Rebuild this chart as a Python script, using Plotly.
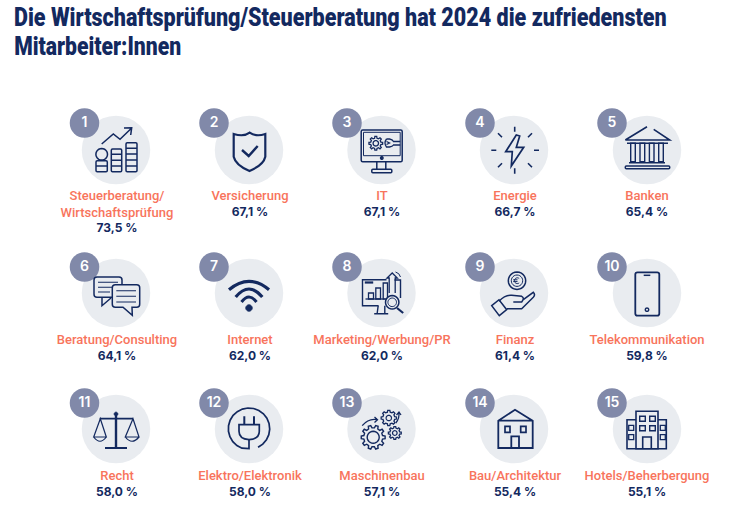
import math
import re

import plotly.graph_objects as go

TITLE_LINES = ["Die Wirtschaftsprüfung/Steuerberatung hat 2024 die zufriedensten",
               "Mitarbeiter:Innen"]
TITLE_CENTER = [340.5, 97.5]
TITLE_WIDTH = [653, 167]
RANKS = list(range(1, 16))
CATEGORIES = ["Steuerberatung/<br>Wirtschaftsprüfung", "Versicherung", "IT", "Energie", "Banken",
              "Beratung/Consulting", "Internet", "Marketing/Werbung/PR", "Finanz", "Telekommunikation",
              "Recht", "Elektro/Elektronik", "Maschinenbau", "Bau/Architektur", "Hotels/Beherbergung"]
VALUES = [73.5, 67.1, 67.1, 66.7, 65.4,
          64.1, 62.0, 62.0, 61.4, 59.8,
          58.0, 58.0, 57.1, 55.4, 55.1]

NAVY = "#13295f"
SALMON = "#f8745c"
DISC = "#e9ecf0"
BADGE = "#8189a9"

COL_X = [116, 249, 381.5, 514, 647]
ROW_Y = [150, 293, 429]
BADGE_X = [84.5, 214, 347, 480, 612]
BADGE_Y = [123, 267, 403]
LABEL_X = [117, 250, 382, 515, 647]
LABEL_Y = [190.5, 334.5, 470.5]


def rect(x0, y0, x1, y1):
    return f"M{x0},{y0} L{x1},{y0} L{x1},{y1} L{x0},{y1} Z"


def rrect(x0, y0, x1, y1, r):
    return (f"M{x0 + r},{y0} L{x1 - r},{y0} Q{x1},{y0} {x1},{y0 + r} L{x1},{y1 - r} Q{x1},{y1} {x1 - r},{y1} "
            f"L{x0 + r},{y1} Q{x0},{y1} {x0},{y1 - r} L{x0},{y0 + r} Q{x0},{y0} {x0 + r},{y0} Z")


def arc(cx, cy, r, a0=0, a1=360, close=True):
    n = max(int(abs(a1 - a0) / 15), 4)
    pts = []
    for i in range(n + 1):
        a = math.radians(a0 + (a1 - a0) * i / n)
        pts.append(f"{cx + r * math.cos(a):.2f},{cy + r * math.sin(a):.2f}")
    return "M" + " L".join(pts) + (" Z" if close else "")


def gear(cx, cy, outer, root, teeth):
    pts = []
    step = 360 / teeth
    for i in range(teeth):
        for da, r in ((-0.3, root), (-0.17, outer), (0.17, outer), (0.3, root)):
            a = math.radians((i + da) * step)
            pts.append(f"{cx + r * math.cos(a):.2f},{cy + r * math.sin(a):.2f}")
    return "M" + " L".join(pts) + " Z"


# every icon: list of (path in pixels around the disc centre, line width, fill)
ICONS = [
    [("M-14.3,-6 L-2.7,-16 L4,-10.7 L15.7,-22 M8,-22 L15.7,-22.3 L14.7,-15", 1.5, None),
     (arc(-14.3, 4.3, 5.8), 1.5, None),
     (rrect(-20, 10.7, -8.7, 21.7, 1.2) + " M-20,16 L-8.7,16", 1.5, None),
     (rrect(-4.7, -1, 5.7, 21.7, 1.2) + " M-4.7,4.3 L5.7,4.3 M-4.7,10.3 L5.7,10.3 M-4.7,16 L5.7,16", 1.5, None),
     (rrect(10, -7.3, 21, 21.7, 1.2) + " M10,-1.7 L21,-1.7 M10,4 L21,4 M10,10 L21,10 M10,16 L21,16", 1.5, None)],
    [("M-15.3,-16 Q-5,-13 0.7,-17.3 Q7,-13 16.3,-16 L16.3,6.7 Q14.5,15 0.5,21 Q-13.5,15 -15.3,6.7 Z", 2.2, None),
     ("M-7,0 L-0.3,6 L8.7,-4", 2.4, None)],
    [(rrect(-20.3, -20, 20.7, 11.7, 1.5), 1.5, None),
     (rect(-18, -17.7, 18.7, 5.7), 1, None),
     (arc(0.3, 8, 1.2), 1.5, NAVY),
     ("M-4.7,11.7 L-4.7,19.3 M4.3,11.7 L4.3,19.3", 1.5, None),
     (rrect(-9.7, 19.3, 10.3, 22.7, 1), 1.5, None),
     (gear(-5.7, -6.7, 6.9, 5.2, 8), 1.3, None),
     (arc(-5.7, -6.7, 2.7), 1.3, None),
     ("M5,-11 Q2,-7 5,-3 L8,-3 Q11,-3.5 12,-5 L18.7,-5 M5,-11 L8,-11 Q11,-10.5 12,-8.5 L18.7,-8.5 M5,-8.5 L8,-7 L5,-5.5", 1.3, None)],
    [("M2.3,-15 L-8.3,1.7 L-1.7,1.7 L-2.7,16 L9.7,-2.7 L2.3,-2.7 L5.7,-14 Z", 1.7, None),
     ("M0.7,-23.3 L0.7,-18.3 M0.7,18.3 L0.7,23.7 M-22.7,0.3 L-17.7,0.3 M20,0.3 L25,0.3", 1.6, None),
     ("M-16,-16.7 L-12,-12.7 M18,-16.7 L14,-12.7 M-16,17.3 L-12,13.3 M18,17.3 L14,13.3", 1.6, None)],
    [("M-21.7,-10 L0,-23.3 M6.7,-20.7 L22.7,-10 L-21.7,-10 M-20,-6.7 L21,-6.7", 1.6, None),
     (rect(-16.3, -6.7, -11.7, 11.7) + " " + rect(-7, -6.7, -2.3, 11.7), 1.4, None),
     (rect(2.4, -6.7, 7, 11.7) + " " + rect(11.7, -6.7, 16.3, 11.7), 1.4, None),
     ("M-18,12.7 L18,12.7", 1.5, None),
     (rrect(-21.7, 16, 22.7, 18.7, 1), 1.5, None)],
    [(rrect(-22, -16, 6, 4.3, 3) + " M-14,4.3 L-14,12.7 L-5,5", 1.5, None),
     ("M-18,-10.7 L2,-10.7 M-18,-5.7 L2,-5.7 M-18,-1 L-6,-1", 1.1, None),
     ("M-0.7,-8.3 L20.7,-8.3 Q23.7,-8.3 23.7,-5.3 L23.7,11.3 Q23.7,14.3 20.7,14.3 L16,14.3 L16.3,22.3 L7,14.3 "
      "L-0.7,14.3 Q-3.7,14.3 -3.7,11.3 L-3.7,-5.3 Q-3.7,-8.3 -0.7,-8.3 Z", 1.5, DISC),
     ("M0.3,-2.3 L20,-2.3 M0.3,3.3 L20,3.3 M0.3,9 L20,9", 1.1, None)],
    [("M-20,-3.3 Q0,-20 20,-3.3", 3.2, None),
     ("M-13.3,4 Q0,-12 13.3,4", 3.2, None),
     ("M-7.5,9 Q0,-1 7.5,9", 3, None),
     (arc(0, 15, 3.2), 1, NAVY)],
    [("M13,-13 L19,-13 L19,5 M-3,12.7 L-19,12.7 L-19,-13.3 L5,-13.3", 1.4, None),
     ("M-16.7,-10.5 L-8.3,-10.5", 2.2, None),
     (rect(-13, 0, -8, 6) + " " + rect(-5.7, -5, -1, 6) + " " + rect(1.7, -10, 6, 6), 1.3, None),
     ("M-16,6 L3,6", 1.3, None),
     ("M-3.3,12.7 L-4.3,20 M3.3,12.7 L3.3,20 M-7.3,20.7 L6.7,20.7", 1.4, None),
     ("M7.7,0 L7.7,-15 L5.5,-15 L10.7,-20 L15.8,-15 L13.7,-15 L13.7,0", 1.3, None),
     ("M14,-21 Q18,-20 19,-16", 1, None),
     (arc(10.7, 9.3, 6.7), 1.5, DISC),
     (arc(10.7, 9.3, 4.3), 1, None),
     ("M15.5,15 L21.7,20", 2.2, None)],
    [(arc(3, -12.3, 8.7), 1.5, None),
     (arc(3, -12.3, 5.7), 1, None),
     (arc(3.3, -12.3, 2.9, 50, 310, close=False) + " M-0.8,-13.2 L3.5,-13.2 M-0.8,-11.4 L3.5,-11.4", 1, None),
     ("M-22.3,12.7 L-15,6.7 L-7.3,16.7 L-14.7,22.7 Z", 1.5, None),
     ("M-15,8.3 Q-9,1.7 -2.3,2.3 L7.7,3.3 Q11,5 7.7,9 L-0.7,9", 1.5, None),
     ("M9.3,6.7 L19.3,-0.7 Q21.7,1.7 19.3,4.3 L7.7,15.7 L-7.3,15.7", 1.5, None)],
    [(rrect(-11.7, -20.7, 12.3, 22.7, 2.2), 1.8, None),
     ("M-3.3,-17.7 L3.3,-17.7", 1.5, None),
     (arc(0, 16.7, 1.7), 1.4, None)],
    [("M0,-15 L0,19", 2.4, None),
     (arc(0, -15, 1.8), 1, NAVY),
     ("M-11,19 L11,19", 2, None),
     ("M-16.3,-10.3 L17,-10.3", 1.8, None),
     ("M-15.7,-10.3 L-22.3,8 L-9.7,8 Z M-22.3,8 Q-16,16.5 -9.7,8", 1.2, None),
     ("M17,-10.3 L9.3,8 L23,8 Z M9.3,8 Q16,16.5 23,8", 1.2, None)],
    [(arc(0, -0.3, 20.7, 64, -250, close=False) + " L0,19.5 L0,10.7", 1.7, None),
     ("M-4.7,-12.7 L-4.7,-4.3 M5,-12.7 L5,-4.3", 2, None),
     ("M-10,-4.3 L10.3,-4.3 L10.3,2.3 Q10.3,10 0,10.7 Q-10,10 -10,2.3 Z", 1.7, None)],
    [(gear(-8.3, 8.3, 12, 9.5, 10), 1.4, None),
     (arc(-8.3, 8.3, 6), 1.4, None),
     (gear(7.3, -11, 7.7, 6, 8), 1.3, None),
     (arc(7.3, -11, 2.7), 1.2, None),
     (gear(13.3, 4, 6.5, 5, 8), 1.3, None),
     (arc(13.3, 4, 2.3), 1.2, None),
     ("M-19.3,-3.3 Q-13,-11 -4.3,-9.3 M-7,-12 L-4,-9.3 L-7,-6.5", 1.3, None),
     ("M14.3,-6 Q18.3,-11 17.3,-16.7 M15,-14 L17.5,-17 L19.5,-14", 1.3, None)],
    [("M-15.7,-8.3 L1,-19.3 L18.7,-8.3 L18.7,19 L-15.7,19 Z M-15.7,-8.3 L18.7,-8.3", 1.8, None),
     (rect(-9, -2.7, -4, 3.3) + " " + rect(6.7, -2.7, 12, 3.3), 1.7, None),
     ("M-2.7,19 L-2.7,7.3 L5,7.3 L5,19", 1.8, None)],
    [(rect(-11, -17.7, 11, 19.7), 1.6, None),
     ("M-11,-9.3 L-20,-9.3 L-20,19.7 L19.3,19.7 L19.3,-9.3 L11,-9.3", 1.6, None),
     (rect(-7.3, -12.7, -1.7, -7.7) + " " + rect(2.7, -12.7, 8.3, -7.7), 1.4, None),
     (rect(-7.3, -3.3, -1.7, 1.7) + " " + rect(2.7, -3.3, 8.3, 1.7), 1.4, None),
     ("M-4.3,19.7 L-4.3,8 L4.3,8 L4.3,19.7", 1.6, None),
     (rect(-18.3, -3.7, -13.3, 1.3) + " " + rect(-18.3, 5.7, -13.3, 10.7), 1.3, None),
     (rect(13.3, -3.7, 18.3, 1.3) + " " + rect(13.3, 5.7, 18.3, 10.7), 1.3, None)],
]


def shift_path(path, dx, dy):
    # moves the absolute coordinate pairs of a path onto its disc
    def repl(m):
        return f"{float(m.group(1)) + dx:.2f},{float(m.group(2)) + dy:.2f}"
    return re.sub(r"(-?\d+\.?\d*),(-?\d+\.?\d*)", repl, path)


cols = [i % 5 for i in range(15)]
rows = [i // 5 for i in range(15)]

fig = go.Figure()

fig.add_trace(go.Scatter(x=[COL_X[c] for c in cols], y=[ROW_Y[r] for r in rows], mode="markers",
                         marker=dict(size=68.5, color=DISC, line=dict(width=0)), hoverinfo="skip"))

fig.add_trace(go.Scatter(x=[BADGE_X[c] for c in cols], y=[BADGE_Y[r] for r in rows], mode="markers+text",
                         text=[str(r) for r in RANKS], textposition="middle center",
                         textfont=dict(family="Inter", size=14, color="white", weight=600),
                         marker=dict(size=29.5, color=BADGE, line=dict(width=0)), hoverinfo="skip"))

fig.add_trace(go.Scatter(x=[LABEL_X[c] for c in cols], y=[LABEL_Y[r] for r in rows], mode="text",
                         text=CATEGORIES, textposition="bottom center",
                         textfont=dict(family="Roboto", size=13, color=SALMON, weight=500), hoverinfo="skip"))

value_y = [LABEL_Y[r] + 16 * c.count("<br>") + 16.5 for r, c in zip(rows, CATEGORIES)]
fig.add_trace(go.Scatter(x=[LABEL_X[c] for c in cols], y=value_y, mode="text",
                         text=[f"{v:.1f}".replace(".", ",") + " %" for v in VALUES], textposition="bottom center",
                         textfont=dict(family="Inter", size=12, color=NAVY, weight=700), hoverinfo="skip"))

for i, icon in enumerate(ICONS):
    for path, width, fill in icon:
        fig.add_shape(type="path", path=shift_path(path, COL_X[cols[i]], ROW_Y[rows[i]]), xref="x", yref="y",
                      line=dict(color=NAVY, width=width), fillcolor=fill or "rgba(0,0,0,0)")

for line, cx, y in zip(TITLE_LINES, TITLE_CENTER, [17, 46]):
    fig.add_annotation(text=line, x=cx, y=y, xref="x", yref="y", xanchor="center", yanchor="middle", showarrow=False,
                       font=dict(family="Roboto", size=25, color=NAVY, weight=900))

fig.update_xaxes(range=[0, 736], visible=False, fixedrange=True)
fig.update_yaxes(range=[514, 0], visible=False, fixedrange=True)
fig.update_layout(autosize=False, width=736, height=514, margin=dict(l=0, r=0, t=0, b=0),
                  showlegend=False, plot_bgcolor="white", paper_bgcolor="white")

# the title face is very condensed, none of the installed fonts is, so squeeze the lines sideways
squeeze = f"""
document.body.style.margin = '0';
document.body.style.overflow = 'hidden';
var widths = {TITLE_WIDTH};
document.querySelectorAll('.annotation-text').forEach(function (t, i) {{
    var k = widths[i] / t.getComputedTextLength();
    var x = parseFloat(t.getAttribute('x')) || 0;
    t.setAttribute('transform', 'translate(' + x + ',0) scale(' + k + ',1) translate(' + (-x) + ',0)');
}});
"""
fig.write_html("out.html", config=dict(displayModeBar=False), post_script=squeeze)
